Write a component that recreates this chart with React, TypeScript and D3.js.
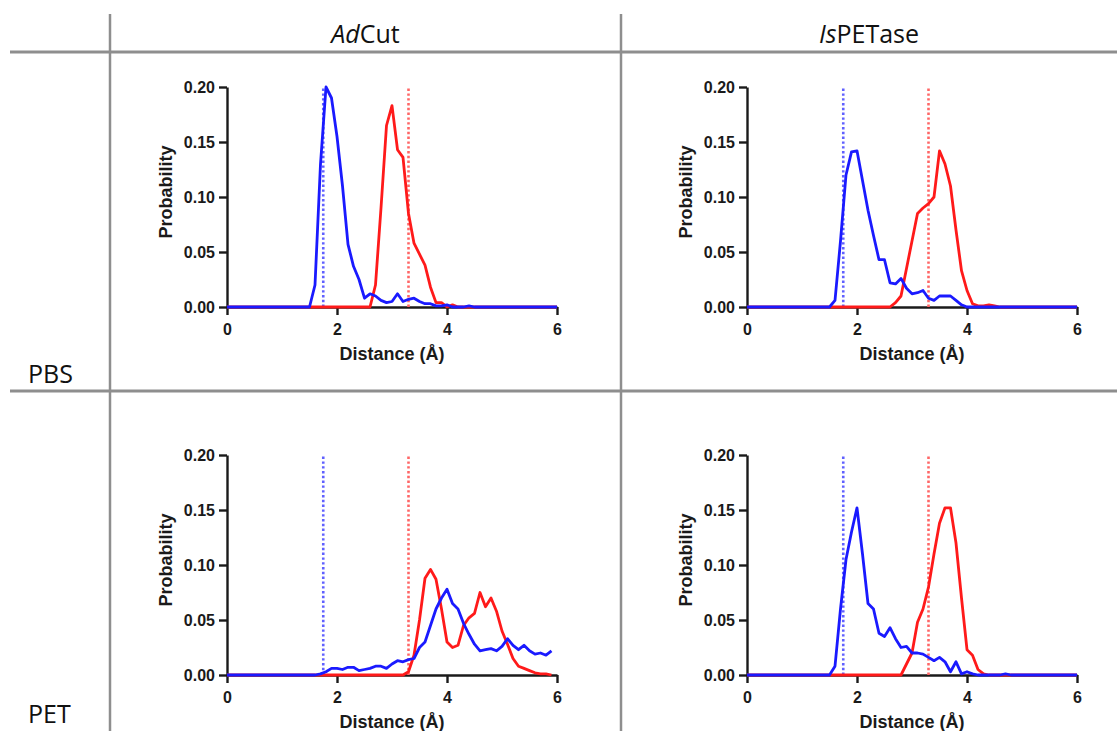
import { useEffect, useRef } from 'react';
import * as d3 from 'd3';

// distance (Å) vs probability
const adcutPbsBlue: [number, number][] = [
  [0, 0], [1.5, 0], [1.6, 0.02], [1.7, 0.13], [1.8, 0.2], [1.9, 0.19], [2.0, 0.155], [2.1, 0.11],
  [2.2, 0.057], [2.3, 0.037], [2.4, 0.025], [2.5, 0.008], [2.6, 0.012], [2.7, 0.01], [2.8, 0.006],
  [2.9, 0.004], [3.0, 0.005], [3.1, 0.012], [3.2, 0.005], [3.3, 0.007], [3.4, 0.008], [3.5, 0.005],
  [3.6, 0.003], [3.7, 0.003], [3.8, 0.001], [3.9, 0.001], [4.0, 0.002], [4.1, 0], [4.3, 0],
  [4.4, 0.001], [4.5, 0], [6, 0],
];
const adcutPbsRed: [number, number][] = [
  [0, 0], [2.6, 0], [2.7, 0.02], [2.8, 0.09], [2.9, 0.165], [3.0, 0.183], [3.1, 0.143], [3.2, 0.136],
  [3.3, 0.085], [3.4, 0.058], [3.5, 0.048], [3.6, 0.038], [3.7, 0.018], [3.8, 0.004], [3.9, 0.004],
  [4.0, 0], [4.1, 0.002], [4.2, 0], [6, 0],
];
const ispetPbsBlue: [number, number][] = [
  [0, 0], [1.5, 0], [1.6, 0.006], [1.7, 0.06], [1.8, 0.12], [1.9, 0.141], [2.0, 0.142], [2.1, 0.115],
  [2.2, 0.088], [2.3, 0.065], [2.4, 0.043], [2.5, 0.043], [2.6, 0.022], [2.7, 0.021], [2.8, 0.026],
  [2.9, 0.017], [3.0, 0.012], [3.1, 0.013], [3.2, 0.015], [3.3, 0.008], [3.4, 0.006], [3.5, 0.01],
  [3.6, 0.01], [3.7, 0.01], [3.8, 0.006], [3.9, 0.002], [4.0, 0], [6, 0],
];
const ispetPbsRed: [number, number][] = [
  [0, 0], [2.6, 0], [2.7, 0.004], [2.8, 0.01], [2.9, 0.035], [3.0, 0.06], [3.1, 0.085], [3.2, 0.09],
  [3.3, 0.094], [3.4, 0.1], [3.5, 0.142], [3.6, 0.13], [3.7, 0.11], [3.8, 0.07], [3.9, 0.033],
  [4.0, 0.015], [4.1, 0.003], [4.2, 0.001], [4.3, 0.001], [4.4, 0.002], [4.5, 0.001], [4.6, 0], [6, 0],
];
const adcutPetBlue: [number, number][] = [
  [0, 0], [1.6, 0], [1.7, 0.001], [1.8, 0.003], [1.9, 0.006], [2.0, 0.006], [2.1, 0.005], [2.2, 0.007],
  [2.3, 0.007], [2.4, 0.004], [2.5, 0.005], [2.6, 0.006], [2.7, 0.008], [2.8, 0.008], [2.9, 0.006],
  [3.0, 0.01], [3.1, 0.013], [3.2, 0.012], [3.3, 0.014], [3.4, 0.015], [3.5, 0.025], [3.6, 0.03],
  [3.7, 0.045], [3.8, 0.06], [3.9, 0.07], [4.0, 0.078], [4.1, 0.065], [4.2, 0.06], [4.3, 0.047],
  [4.4, 0.037], [4.5, 0.028], [4.6, 0.022], [4.7, 0.023], [4.8, 0.024], [4.9, 0.022], [5.0, 0.026],
  [5.1, 0.033], [5.2, 0.027], [5.3, 0.023], [5.4, 0.027], [5.5, 0.022], [5.6, 0.019], [5.7, 0.02],
  [5.8, 0.018], [5.9, 0.022],
];
const adcutPetRed: [number, number][] = [
  [0, 0], [3.2, 0], [3.3, 0.003], [3.4, 0.018], [3.5, 0.05], [3.6, 0.088], [3.7, 0.096], [3.8, 0.087],
  [3.9, 0.06], [4.0, 0.03], [4.1, 0.025], [4.2, 0.027], [4.3, 0.045], [4.4, 0.052], [4.5, 0.056],
  [4.6, 0.075], [4.7, 0.062], [4.8, 0.07], [4.9, 0.058], [5.0, 0.04], [5.1, 0.028], [5.2, 0.015],
  [5.3, 0.008], [5.4, 0.006], [5.5, 0.004], [5.6, 0.002], [5.7, 0.001], [5.8, 0.001], [5.9, 0],
];
const ispetPetBlue: [number, number][] = [
  [0, 0], [1.5, 0], [1.6, 0.008], [1.7, 0.06], [1.8, 0.105], [1.9, 0.13], [2.0, 0.152], [2.1, 0.11],
  [2.2, 0.065], [2.3, 0.06], [2.4, 0.038], [2.5, 0.035], [2.6, 0.043], [2.7, 0.033], [2.8, 0.025],
  [2.9, 0.026], [3.0, 0.02], [3.1, 0.02], [3.2, 0.019], [3.3, 0.016], [3.4, 0.013], [3.5, 0.016],
  [3.6, 0.012], [3.7, 0.003], [3.8, 0.012], [3.9, 0.001], [4.0, 0.003], [4.1, 0.001], [4.2, 0],
  [4.6, 0], [4.7, 0.001], [4.8, 0], [6, 0],
];
const ispetPetRed: [number, number][] = [
  [0, 0], [2.8, 0], [2.9, 0.01], [3.0, 0.02], [3.1, 0.048], [3.2, 0.06], [3.3, 0.08], [3.4, 0.11],
  [3.5, 0.138], [3.6, 0.152], [3.7, 0.152], [3.8, 0.12], [3.9, 0.07], [4.0, 0.023], [4.1, 0.018],
  [4.2, 0.005], [4.3, 0.001], [4.4, 0], [6, 0],
];

const refLines = [
  { x: 1.75, color: '#6060ff' },
  { x: 3.3, color: '#ff6666' },
];
const xTicks = [0, 2, 4, 6];
const yTicks = [0, 0.05, 0.1, 0.15, 0.2];

const columns = [
  { pre: 'Ad', post: 'Cut' },
  { pre: 'Is', post: 'PETase' },
];
const rows = ['PBS', 'PET'];

const panels = [
  { col: 0, row: 0, blue: adcutPbsBlue, red: adcutPbsRed },
  { col: 1, row: 0, blue: ispetPbsBlue, red: ispetPbsRed },
  { col: 0, row: 1, blue: adcutPetBlue, red: adcutPetRed },
  { col: 1, row: 1, blue: ispetPetBlue, red: ispetPetRed },
];

export default function App() {
  const svgRef = useRef<SVGSVGElement | null>(null);

  useEffect(() => {
    if (!svgRef.current) return;
    const svg = d3.select(svgRef.current);
    svg.selectAll('*').remove();

    const gridColor = '#8e8e8e';
    const colLeft = [227, 747];
    const rowTop = [87, 455];
    const pw = 330;
    const ph = 220;
    const axisFont = '"Liberation Sans", Arial, sans-serif';

    // table grid
    const grid = svg.append('g').attr('stroke', gridColor).attr('fill', 'none');
    grid.append('line').attr('x1', 10).attr('x2', 1117).attr('y1', 52).attr('y2', 52).attr('stroke-width', 3);
    grid.append('line').attr('x1', 10).attr('x2', 1117).attr('y1', 391).attr('y2', 391).attr('stroke-width', 3);
    [110, 621].forEach((x) => {
      grid.append('line').attr('x1', x).attr('x2', x).attr('y1', 14).attr('y2', 731).attr('stroke-width', 2.5);
    });

    // headers
    const colCenters = [365.5, 869];
    columns.forEach((c, i) => {
      const t = svg.append('text')
        .attr('x', colCenters[i])
        .attr('y', 43)
        .attr('text-anchor', 'middle')
        .attr('font-family', '"Open Sans", sans-serif')
        .attr('font-size', 25)
        .attr('fill', '#111');
      t.append('tspan').attr('font-style', 'italic').text(c.pre);
      t.append('tspan').text(c.post);
    });
    const rowBase = [383, 723];
    rows.forEach((r, i) => {
      svg.append('text')
        .attr('x', 28)
        .attr('y', rowBase[i])
        .attr('font-family', '"Open Sans", sans-serif')
        .attr('font-size', 25)
        .attr('fill', '#111')
        .text(r);
    });

    panels.forEach((p) => {
      const g = svg.append('g').attr('transform', `translate(${colLeft[p.col]},${rowTop[p.row]})`);
      const x = d3.scaleLinear().domain([0, 6]).range([0, pw]);
      const y = d3.scaleLinear().domain([0, 0.2]).range([ph, 0]);

      // axes
      const xAxis = g.append('g')
        .attr('transform', `translate(0,${ph})`)
        .call(d3.axisBottom(x).tickValues(xTicks).tickFormat(d3.format('d')).tickSize(8).tickSizeOuter(0).tickPadding(9));
      const yAxis = g.append('g')
        .call(d3.axisLeft(y).tickValues(yTicks).tickFormat(d3.format('.2f')).tickSize(8).tickSizeOuter(0).tickPadding(4));
      [xAxis, yAxis].forEach((a) => {
        a.selectAll('path, line').attr('stroke', '#1a1a1a').attr('stroke-width', 2.4);
        a.selectAll('text')
          .attr('fill', '#1a1a1a')
          .attr('font-family', axisFont)
          .attr('font-weight', 700)
          .attr('font-size', 16);
      });

      // axis titles
      g.append('text')
        .attr('x', pw / 2)
        .attr('y', ph + 53)
        .attr('text-anchor', 'middle')
        .attr('font-family', axisFont)
        .attr('font-weight', 700)
        .attr('font-size', 18)
        .attr('fill', '#1a1a1a')
        .text('Distance (Å)');
      g.append('text')
        .attr('transform', 'rotate(-90)')
        .attr('x', -ph / 2 + 5)
        .attr('y', -55)
        .attr('text-anchor', 'middle')
        .attr('font-family', axisFont)
        .attr('font-weight', 700)
        .attr('font-size', 18)
        .attr('fill', '#1a1a1a')
        .text('Probability');

      // dotted reference lines
      refLines.forEach((r) => {
        g.append('line')
          .attr('x1', x(r.x)).attr('x2', x(r.x))
          .attr('y1', y(0)).attr('y2', y(0.2))
          .attr('stroke', r.color)
          .attr('stroke-width', 2.6)
          .attr('stroke-dasharray', '2.4,2.4');
      });

      const line = d3.line<[number, number]>()
        .x((d) => x(d[0]))
        .y((d) => y(d[1]));

      g.append('path')
        .datum(p.red)
        .attr('d', line)
        .attr('fill', 'none')
        .attr('stroke', '#ff1a1a')
        .attr('stroke-width', 2.8)
        .attr('stroke-linejoin', 'round');
      g.append('path')
        .datum(p.blue)
        .attr('d', line)
        .attr('fill', 'none')
        .attr('stroke', '#1a1aff')
        .attr('stroke-width', 2.8)
        .attr('stroke-linejoin', 'round');
    });
  }, []);

  return (
    <svg
      ref={svgRef}
      width={1117}
      height={731}
      style={{ position: 'absolute', left: 0, top: 0, background: '#fff' }}
    />
  );
}
